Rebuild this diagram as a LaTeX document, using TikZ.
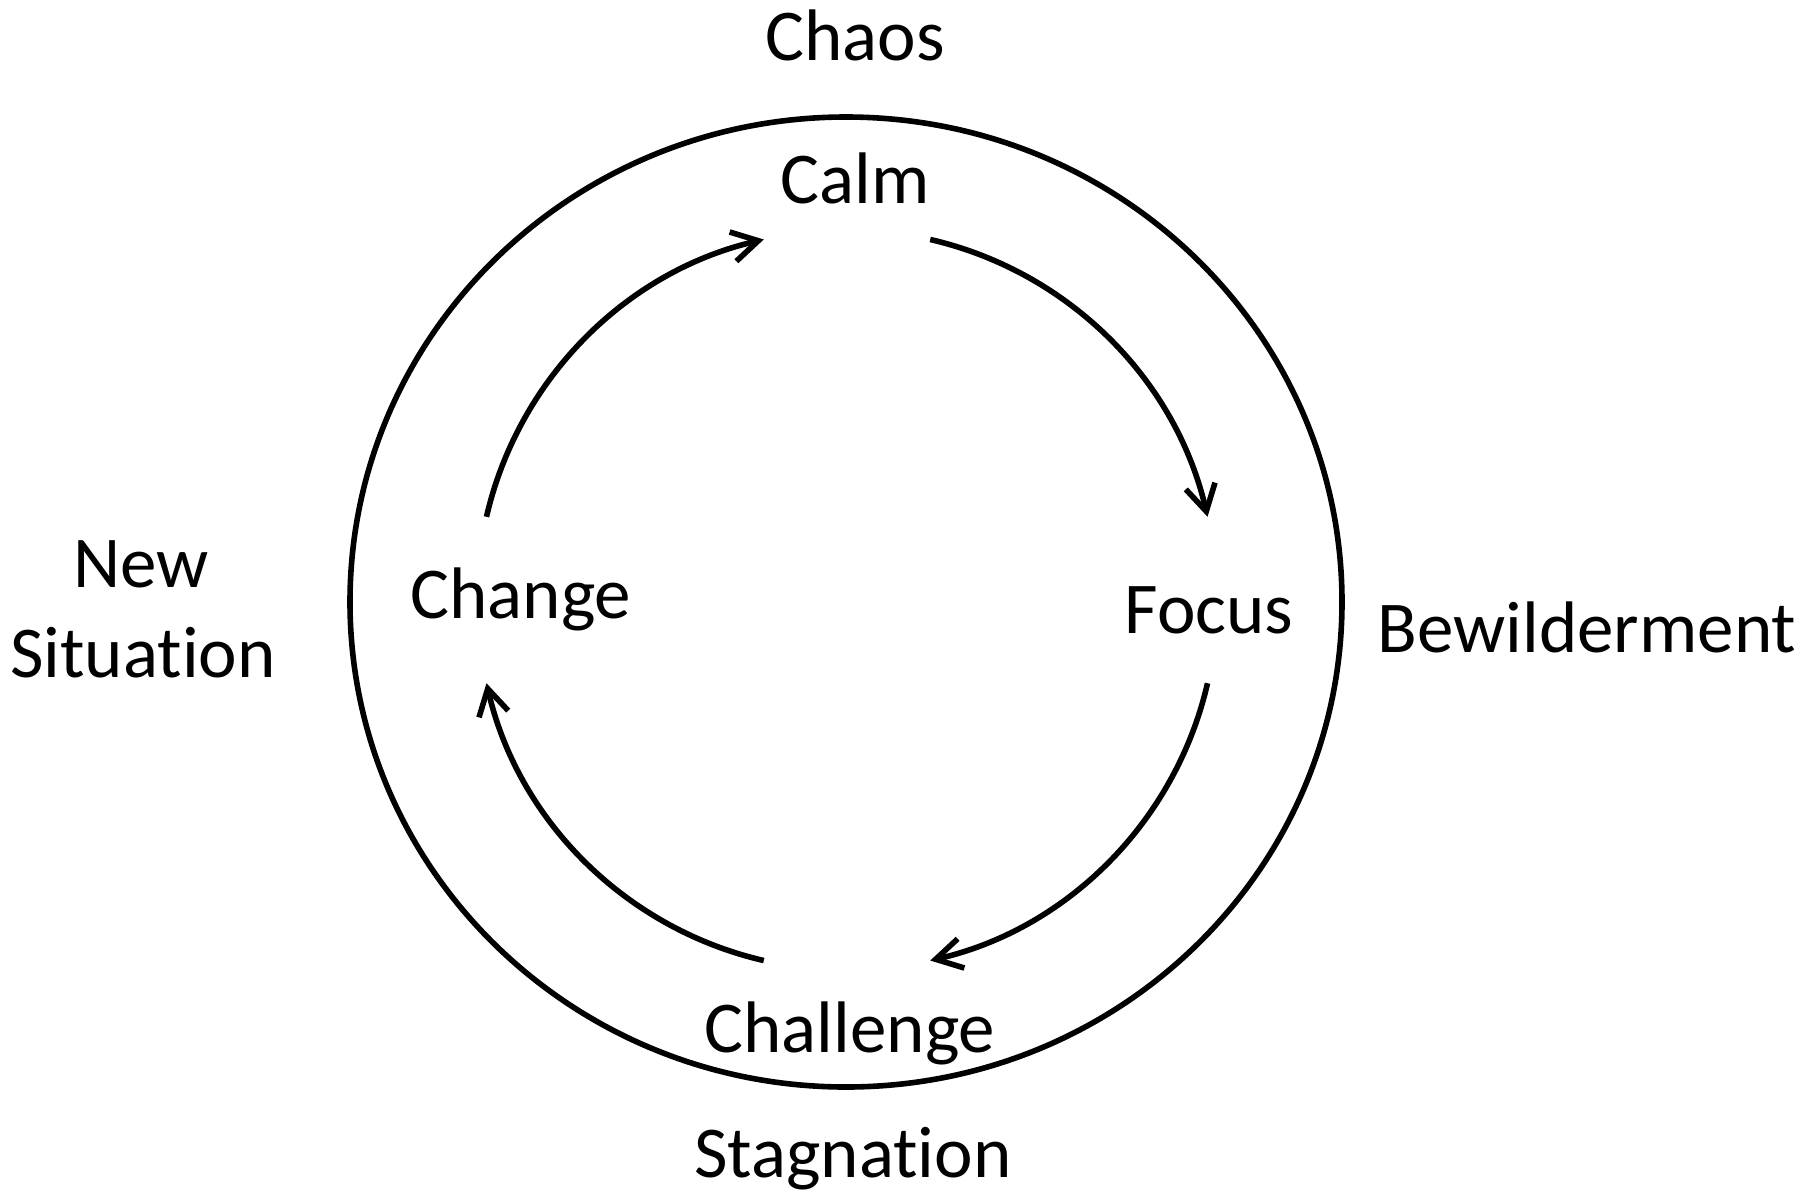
\documentclass[tikz,border=0pt]{standalone}
\usepackage{fontspec}
\setmainfont{Carlito}[Ligatures={NoCommon}]
\usetikzlibrary{arrows.meta,calc,shapes.geometric}
\begin{document}
\begin{tikzpicture}[x=0.5pt,y=0.5pt,
  lbl/.style={inner sep=0pt,anchor=base,font=\fontsize{36.5}{45}\selectfont},
  ring/.style={line width=2.8pt},
  flow/.style={line width=2.8pt,-{Straight Barb[length=13pt,width=15pt,line width=2.8pt]}}]
\useasboundingbox (0,0) rectangle (1820,-1195);
% outer ring
\node[draw,ring,ellipse,minimum width=496pt,minimum height=485pt,inner sep=0pt] (ring) at (846,-602) {};
% labels
\node[lbl] (chaos) at (855,-60) {Chaos};
\node[lbl] (calm) at (855,-203) {Calm};
\node[lbl] (change) at (521,-618) {Change};
\node[lbl] (focus) at (1209,-633) {Focus};
\node[lbl] (challenge) at (850,-1052) {Challenge};
\node[lbl] (stag) at (853,-1177) {Stagnation};
\node[lbl] (newsit) at (141,-587) {New};
\node[lbl] (newsit2) at (143,-677) {Situation};
\node[lbl] (bew) at (1587,-652) {Bewilderment};
% cycle arrows
\coordinate (O) at (847,-600);
\coordinate (s1) at ($(O)+(167:370)$);
\coordinate (s2) at ($(O)+(77:370)$);
\coordinate (s3) at ($(O)+(-13:370)$);
\coordinate (s4) at ($(O)+(257:370)$);
\draw[flow] (s1) arc[start angle=167,end angle=103,radius=185pt];
\draw[flow] (s2) arc[start angle=77,end angle=13,radius=185pt];
\draw[flow] (s3) arc[start angle=-13,end angle=-77,radius=185pt];
\draw[flow] (s4) arc[start angle=257,end angle=193,radius=185pt];
\end{tikzpicture}
\end{document}
